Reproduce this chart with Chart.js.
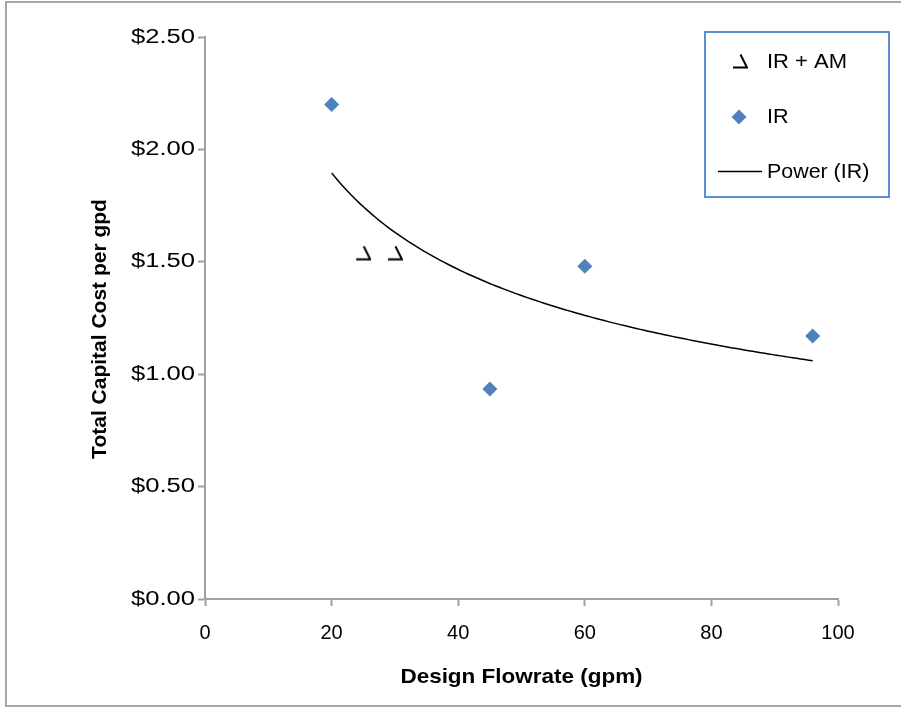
<!DOCTYPE html>
<html>
<head>
<meta charset="utf-8">
<script src="https://cdn.jsdelivr.net/npm/chart.js@4.4.0/dist/chart.umd.min.js"></script>
<style>
  html, body { margin: 0; padding: 0; background: #fff; }
  #wrap { position: relative; width: 901px; height: 708px; overflow: hidden; }
  #frame { position: absolute; left: 5px; top: 1px; width: 900px; height: 706px; border: 2px solid #a6a6a6; box-sizing: border-box; }
  canvas { position: absolute; left: 0; top: 0; }
</style>
</head>
<body>
<div id="wrap">
  <div id="frame"></div>
  <canvas id="chart" width="901" height="708"></canvas>
</div>
<script>
// --- data ---
const irAmX = [25, 30];
const irAmY = [1.54, 1.54];
const irX = [20, 45, 60, 96];
const irY = [2.20, 0.934, 1.48, 1.17];
const xTicks = [0, 20, 40, 60, 80, 100];
const yTicks = [0, 0.5, 1.0, 1.5, 2.0, 2.5];
const seriesNames = ['IR + AM', 'IR', 'Power (IR)'];

const FONT = 'Liberation Sans';
const AXIS_GRAY = '#a0a0a0';
const IR_BLUE = '#4f81bd';

// power trendline y = a * x^b, least squares in log space (like Excel)
function powerFit(xs, ys) {
    const lx = xs.map(Math.log), ly = ys.map(Math.log);
    const n = xs.length;
    const mx = lx.reduce((s, v) => s + v, 0) / n;
    const my = ly.reduce((s, v) => s + v, 0) / n;
    let sxy = 0, sxx = 0;
    for (let i = 0; i < n; i++) {
        sxy += (lx[i] - mx) * (ly[i] - my);
        sxx += (lx[i] - mx) * (lx[i] - mx);
    }
    const b = sxy / sxx;
    return { a: Math.exp(my - b * mx), b };
}
const fit = powerFit(irX, irY);
const fitLine = [];
const x0 = Math.min(...irX), x1 = Math.max(...irX);
for (let i = 0; i <= 120; i++) {
    const x = x0 + (x1 - x0) * i / 120;
    fitLine.push({ x, y: fit.a * Math.pow(x, fit.b) });
}

// odd open-triangle marker used for IR + AM
const amMarker = document.createElement('canvas');
amMarker.width = 16; amMarker.height = 16;
(() => {
    const c = amMarker.getContext('2d');
    c.strokeStyle = '#000';
    c.lineWidth = 2;
    c.beginPath();
    c.moveTo(8.5, 1.5);
    c.lineTo(15, 14.5);
    c.lineTo(1, 14.5);
    c.stroke();
})();

// the source picture has horizontally stretched text; mimic it per label
const textTweaks = {
    'Design Flowrate (gpm)': { sx: 1.07, dx: 0 },
    'Total Capital Cost per gpd': { sx: 1.0, dx: -11 },
    'IR + AM': { sx: 1.1, dx: 0 },
    'IR': { sx: 1.08, dx: 0 },
    'Power (IR)': { sx: 1.07, dx: 0 }
};
function tweakFor(t) {
    if (typeof t !== 'string') return null;
    if (t[0] === '$') return { sx: 1.28, dx: 0 };
    return textTweaks[t] || null;
}
const stretchText = {
    id: 'stretchText',
    beforeInit(chart) {
        const ctx = chart.ctx;
        const orig = ctx.fillText;
        ctx.fillText = function (t, x, y, mw) {
            const tw = tweakFor(t);
            if (!tw) {
                return mw === undefined ? orig.call(this, t, x, y) : orig.call(this, t, x, y, mw);
            }
            this.save();
            this.translate(x + tw.dx, y);
            this.scale(tw.sx, 1);
            orig.call(this, t, 0, 0);
            this.restore();
        };
    }
};

// legend box drawn on the canvas
const boxLegend = {
    id: 'boxLegend',
    afterDraw(chart) {
        const ctx = chart.ctx;
        ctx.save();
        ctx.strokeStyle = '#5b8fd0';
        ctx.lineWidth = 2;
        ctx.strokeRect(705, 32, 184, 165);

        ctx.drawImage(amMarker, 732, 53);

        ctx.fillStyle = IR_BLUE;
        ctx.beginPath();
        ctx.moveTo(739, 109.5); ctx.lineTo(746.5, 117); ctx.lineTo(739, 124.5); ctx.lineTo(731.5, 117);
        ctx.closePath(); ctx.fill();

        ctx.strokeStyle = '#000';
        ctx.lineWidth = 1.5;
        ctx.beginPath();
        ctx.moveTo(718, 171.5); ctx.lineTo(762, 171.5);
        ctx.stroke();

        ctx.fillStyle = '#000';
        ctx.font = `20px "${FONT}"`;
        ctx.textAlign = 'left';
        ctx.textBaseline = 'middle';
        ctx.fillText(seriesNames[0], 767, 62);
        ctx.fillText(seriesNames[1], 767, 117);
        ctx.fillText(seriesNames[2], 767, 172);
        ctx.restore();
    }
};

new Chart(document.getElementById('chart'), {
    type: 'scatter',
    data: {
        datasets: [
            {
                label: seriesNames[0],
                data: irAmX.map((x, i) => ({ x, y: irAmY[i] })),
                pointStyle: amMarker,
                pointRadius: 8
            },
            {
                label: seriesNames[1],
                data: irX.map((x, i) => ({ x, y: irY[i] })),
                pointStyle: 'rectRot',
                pointRadius: 7.5,
                backgroundColor: IR_BLUE,
                borderColor: IR_BLUE,
                borderWidth: 0
            },
            {
                label: seriesNames[2],
                data: fitLine,
                showLine: true,
                pointRadius: 0,
                borderColor: '#000',
                borderWidth: 1.5,
                fill: false
            }
        ]
    },
    options: {
        responsive: false,
        animation: false,
        devicePixelRatio: 1,
        layout: { padding: { left: 88, top: 37, right: 63, bottom: 18 } },
        plugins: { legend: { display: false }, tooltip: { enabled: false } },
        scales: {
            x: {
                type: 'linear',
                min: 0, max: 100,
                afterBuildTicks: s => { s.ticks = xTicks.map(v => ({ value: v })); },
                afterFit: s => { s.height = 91; },
                ticks: { color: '#000', padding: 15, font: { family: FONT, size: 20 } },
                grid: { drawOnChartArea: false, drawTicks: true, tickLength: 7, tickColor: AXIS_GRAY, tickWidth: 2 },
                border: { color: AXIS_GRAY, width: 2 },
                title: {
                    display: true,
                    text: 'Design Flowrate (gpm)',
                    color: '#000',
                    font: { family: FONT, size: 21, weight: 'bold' },
                    padding: { top: 0, bottom: 0 }
                }
            },
            y: {
                type: 'linear',
                min: 0, max: 2.5,
                afterBuildTicks: s => { s.ticks = yTicks.map(v => ({ value: v })); },
                afterFit: s => { s.width = 117; },
                ticks: {
                    color: '#000', padding: 3,
                    font: { family: FONT, size: 20 },
                    callback: v => '$' + Number(v).toFixed(2)
                },
                grid: { drawOnChartArea: false, drawTicks: true, tickLength: 7, tickColor: AXIS_GRAY, tickWidth: 2 },
                border: { color: AXIS_GRAY, width: 2 },
                title: {
                    display: true,
                    text: 'Total Capital Cost per gpd',
                    color: '#000',
                    font: { family: FONT, size: 21, weight: 'bold' },
                    padding: { top: 0, bottom: 0 }
                }
            }
        }
    },
    plugins: [stretchText, boxLegend]
});
</script>
</body>
</html>
